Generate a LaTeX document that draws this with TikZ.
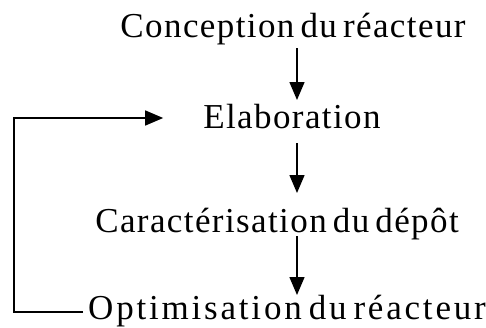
\documentclass[tikz,border=0pt]{standalone}
\usepackage{fontspec}
\setmainfont{Liberation Serif}[LetterSpace=4,WordSpace=0.6]
\usetikzlibrary{arrows.meta}

\begin{document}
\begin{tikzpicture}[x=1pt,y=-1pt,
   step text/.style={anchor=base,inner sep=0pt,font=\fontsize{35}{40}\selectfont},
   flow/.style={line width=1.5pt,-{Triangle[length=18pt,width=15pt]}}]
\useasboundingbox (0,0) rectangle (486,327);
% the four stages
\node[step text] (concep) at (293,37) {Conception du réacteur};
\node[step text] (elab) at (292,128) {Elaboration};
\node[step text] (caract) at (277,232) {Caractérisation du dépôt};
\node[step text] (optim) at (287,319) {\addfontfeature{LetterSpace=8}Optimisation du réacteur};
\coordinate (spine) at (297,0);
% downward arrows
\draw[flow] ([yshift=-11pt]concep.base -| spine) -- ([yshift=28pt]elab.base -| spine);
\draw[flow] ([yshift=-15pt]elab.base -| spine) -- ([yshift=39pt]caract.base -| spine);
\draw[flow] ([yshift=-4pt]caract.base -| spine) -- ([yshift=24pt]optim.base -| spine);
% loop back
\coordinate (back) at ([xshift=-40pt,yshift=10pt]elab.base west);
\draw[flow] ([xshift=-5pt,yshift=7pt]optim.base west) -| (14,0 |- back) -- (back);
\end{tikzpicture}
\end{document}
